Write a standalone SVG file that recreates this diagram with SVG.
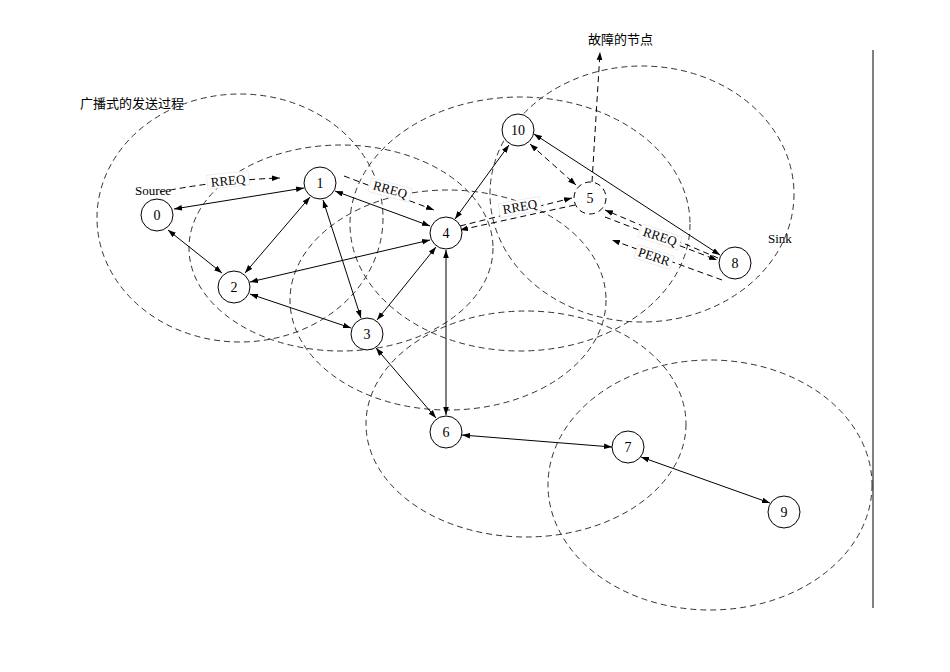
<svg xmlns="http://www.w3.org/2000/svg" width="950" height="672" viewBox="0 0 950 672">
<style>
.n{fill:#fff;stroke:#000;stroke-width:1}
.t{font-family:"Liberation Serif",serif;font-size:14px;text-anchor:middle}
.l{font-family:"Liberation Serif",serif;font-size:13px}
.c{font-family:"Noto Sans CJK SC",sans-serif;font-size:13px}
.r{fill:none;stroke:#333;stroke-width:1;stroke-dasharray:6,4}
.e{fill:none;stroke:#000;stroke-width:1;marker-start:url(#a);marker-end:url(#a)}
.d{fill:none;stroke:#000;stroke-width:1;stroke-dasharray:6,4}
.bg{fill:#fff;stroke:#ddd;stroke-width:0.5}
</style>
<defs><marker id="a" viewBox="0 0 10 10" refX="10" refY="5" markerWidth="8" markerHeight="8" orient="auto-start-reverse"><path d="M0,1.5L10,5L0,8.5z"/></marker></defs>
<rect width="950" height="672" fill="#fff"/>
<g id="ranges">
<ellipse class="r" cx="240" cy="218" rx="143" ry="124"/>
<ellipse class="r" cx="341" cy="248" rx="152" ry="103"/>
<ellipse class="r" cx="448" cy="300" rx="158" ry="110"/>
<ellipse class="r" cx="520" cy="224" rx="170" ry="127"/>
<ellipse class="r" cx="642" cy="194" rx="152" ry="128"/>
<ellipse class="r" cx="526" cy="424" rx="160" ry="113"/>
<ellipse class="r" cx="710" cy="485" rx="162" ry="125"/>
</g>
<line x1="873" y1="50" x2="873" y2="608" stroke="#000"/>
<g id="connectors">
<line class="e" x1="174" y1="209" x2="304" y2="188"/>
<line class="e" x1="168" y1="230" x2="222" y2="273"/>
<line class="e" x1="245" y1="273" x2="310" y2="197"/>
<line class="e" x1="323" y1="200" x2="361" y2="318"/>
<line class="e" x1="335" y1="191" x2="430" y2="226"/>
<line class="e" x1="250" y1="282" x2="430" y2="240"/>
<line class="e" x1="250" y1="294" x2="351" y2="328"/>
<line class="e" x1="377" y1="320" x2="436" y2="247"/>
<line class="e" x1="446" y1="250" x2="446" y2="415"/>
<line class="e" x1="376" y1="348" x2="436" y2="418"/>
<line class="e" x1="455" y1="219" x2="509" y2="145"/>
<line class="e" x1="534" y1="134" x2="720" y2="255"/>
<line class="e" x1="462" y1="435" x2="612" y2="447"/>
<line class="e" x1="641" y1="457" x2="770" y2="503"/>
<path class="d" d="M530,144L576,185" marker-start="url(#a)" marker-end="url(#a)"/>
<path class="d" d="M460,226L572,198" marker-end="url(#a)"/>
<path class="d" d="M575,205L460,230" marker-end="url(#a)"/>
<path class="d" d="M718,258L605,210" marker-end="url(#a)"/>
<path class="d" d="M605,217L717,260" marker-end="url(#a)"/>
<path class="d" d="M722,280L612,240" marker-end="url(#a)"/>
<path class="d" d="M160,192Q220,180 280,178" marker-end="url(#a)"/>
<path class="d" d="M344,176L434,210" marker-end="url(#a)"/>
<path class="d" d="M592,182L600,52" marker-end="url(#a)"/>
</g>
<g id="labels">
<rect class="bg" x="207" y="173" width="42" height="14" transform="rotate(-6 228 180)"/>
<text class="l" x="228" y="185" text-anchor="middle" transform="rotate(-6 228 180)">RREQ</text>
<rect class="bg" x="369" y="183" width="42" height="14" transform="rotate(15 390 190)"/>
<text class="l" x="390" y="194" text-anchor="middle" transform="rotate(15 390 190)">RREQ</text>
<rect class="bg" x="499" y="200" width="42" height="14" transform="rotate(-10 520 207)"/>
<text class="l" x="520" y="211" text-anchor="middle" transform="rotate(-10 520 207)">RREQ</text>
<rect class="bg" x="639" y="230" width="42" height="14" transform="rotate(18 660 237)"/>
<text class="l" x="660" y="241" text-anchor="middle" transform="rotate(18 660 237)">RREQ</text>
<rect class="bg" x="635" y="250" width="38" height="14" transform="rotate(18 654 257)"/>
<text class="l" x="654" y="261" text-anchor="middle" transform="rotate(18 654 257)">PERR</text>
<text class="l" x="135" y="195">Source</text>
<text class="l" x="768" y="243">Sink</text>
<text class="c" x="80" y="108">广播式的发送过程</text>
<text class="c" x="588" y="44">故障的节点</text>
</g>
<g id="node0"><circle class="n" cx="157" cy="215" r="16"/><text class="t" x="157" y="220">0</text></g>
<g id="node1"><circle class="n" cx="320" cy="183" r="16"/><text class="t" x="320" y="188">1</text></g>
<g id="node2"><circle class="n" cx="234" cy="287" r="16"/><text class="t" x="234" y="292">2</text></g>
<g id="node3"><circle class="n" cx="367" cy="334" r="16"/><text class="t" x="367" y="339">3</text></g>
<g id="node4"><circle class="n" cx="446" cy="233" r="16"/><text class="t" x="446" y="238">4</text></g>
<g id="node5"><circle class="n" cx="590" cy="198" r="16" stroke-dasharray="6,4"/><text class="t" x="590" y="203">5</text></g>
<g id="node6"><circle class="n" cx="446" cy="432" r="16"/><text class="t" x="446" y="437">6</text></g>
<g id="node7"><circle class="n" cx="628" cy="447" r="16"/><text class="t" x="628" y="452">7</text></g>
<g id="node8"><circle class="n" cx="735" cy="263" r="16"/><text class="t" x="735" y="268">8</text></g>
<g id="node9"><circle class="n" cx="784" cy="512" r="16"/><text class="t" x="784" y="517">9</text></g>
<g id="node10"><circle class="n" cx="518" cy="130" r="16"/><text class="t" x="518" y="135">10</text></g>
</svg>
